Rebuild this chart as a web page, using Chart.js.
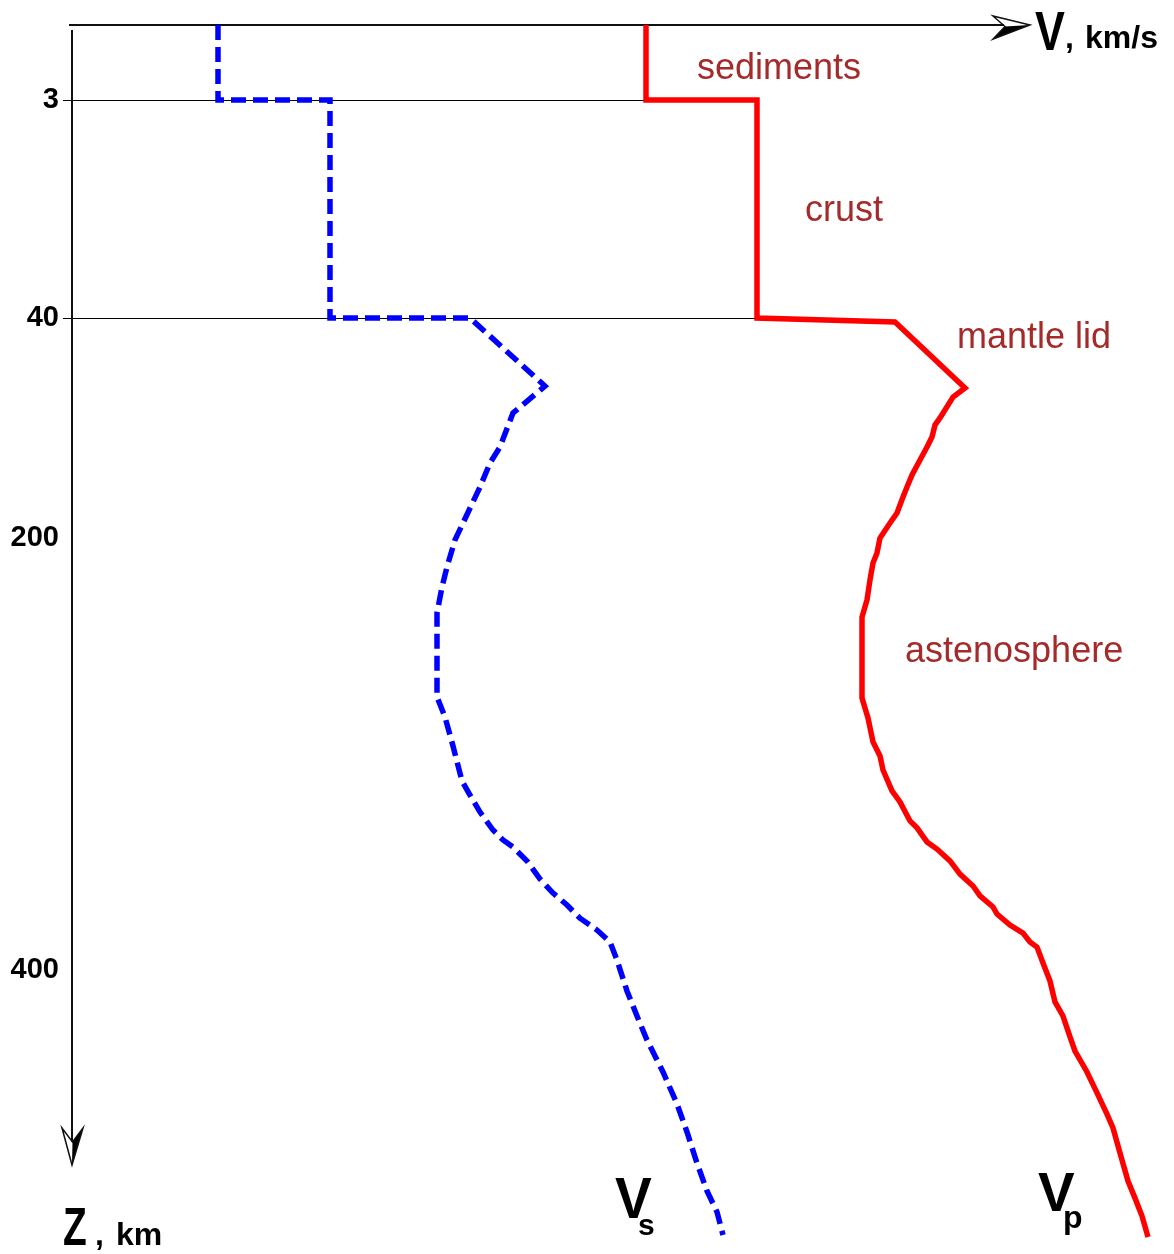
<!DOCTYPE html>
<html>
<head>
<meta charset="utf-8">
<script src="https://cdn.jsdelivr.net/npm/chart.js@4.4.1/dist/chart.umd.min.js"></script>
<style>
html,body{margin:0;padding:0;background:#fff;}
canvas{display:block;}
</style>
</head>
<body>
<canvas id="c" width="1174" height="1254"></canvas>
<script>
// ---- data ----
const DEPTH_TICKS = [3, 40, 200, 400];
const LAYER_BOUNDARIES = [3, 40];
const LAYER_NAMES = ['sediments', 'crust', 'mantle lid', 'astenosphere'];

const VS_VEL = [1.47,1.47,2.59,2.59,3.99,4.74,4.42,4.29,4.19,4.09,3.92,3.84,3.76,3.71,3.66,3.66,3.74,3.82,3.91,3.99,4.09,4.22,4.32,4.42,4.56,4.69,4.82,4.96,5.09,5.26,5.39,5.46,5.56,5.66,5.76,5.92,6.06,6.16,6.26,6.36,6.46,6.52];
const VS_DEPTH = [0,3,3,40,40,89.5,109.1,133.8,145.5,162.9,189.1,200.9,213.4,222.7,234.7,273.6,282.9,296.3,312.5,319.0,326.9,335.2,339.8,343.1,349.5,357.9,364.4,369.9,376.0,381.5,387.0,395.4,409.7,421.3,432.4,447.2,462.0,475.0,489.4,502.3,512.0,522.7];

const VP_VEL = [5.75,5.75,6.86,6.86,8.24,8.94,8.82,8.69,8.64,8.61,8.56,8.49,8.41,8.36,8.32,8.26,8.19,8.09,8.06,8.02,7.99,7.96,7.91,7.91,7.97,8.02,8.09,8.12,8.21,8.29,8.39,8.46,8.56,8.66,8.79,8.89,9.02,9.09,9.22,9.26,9.39,9.52,9.59,9.66,9.72,9.79,9.84,9.92,9.99,10.04,10.16,10.26,10.36,10.42,10.49,10.57,10.64,10.71,10.77];
const VP_DEPTH = [0,3,3,40,42.9,90.9,97.5,112.7,117.8,126.5,133.8,143.3,154.2,162.9,170.2,181.8,189.1,200,206.9,211.6,219.4,228.7,236.6,274.1,283.3,294.4,300.9,307.4,317.1,322.2,331.0,334.2,340.7,344.0,349.5,355.6,361.1,365.7,370.8,374.1,379.2,382.9,387.0,389.4,396.8,405.1,414.8,421.3,431.0,437.5,447.2,456.9,466.7,473.1,484.7,497.7,505.6,513.9,523.6];

// ---- schematic (piecewise) depth axis definition ----
const DEPTH_AXIS = {
  depths: [0, 3, 40, 200, 400, 525],
  fracs:  [0, 0.06173, 0.24115, 0.42222, 0.77778, 1.0]
};
function depthToFrac(v) {
  const d = DEPTH_AXIS.depths, f = DEPTH_AXIS.fracs;
  let i = 0;
  while (i < d.length - 2 && v > d[i + 1]) i++;
  return f[i] + (v - d[i]) * (f[i + 1] - f[i]) / (d[i + 1] - d[i]);
}
function fracToDepth(q) {
  const d = DEPTH_AXIS.depths, f = DEPTH_AXIS.fracs;
  let i = 0;
  while (i < f.length - 2 && q > f[i + 1]) i++;
  return d[i] + (q - f[i]) * (d[i + 1] - d[i]) / (f[i + 1] - f[i]);
}
class DepthScale extends Chart.LinearScale {
  getPixelForValue(value) {
    return this.top + depthToFrac(value) * (this.bottom - this.top);
  }
  getValueForPixel(pixel) {
    return fracToDepth((pixel - this.top) / (this.bottom - this.top));
  }
}
DepthScale.id = 'depthPiecewise';
DepthScale.defaults = { ticks: { callback: v => String(v) } };
Chart.register(DepthScale);

const FONT = '"Liberation Sans", Arial, Helvetica, sans-serif';
const LABEL_COLOR = '#a52a2a';

function drawText(ctx, s, x, y, size, bold, color, sx) {
  ctx.save();
  ctx.translate(x, y);
  ctx.scale(sx || 1, 1);
  ctx.font = (bold ? 'bold ' : '') + size + 'px ' + FONT;
  ctx.fillStyle = color;
  ctx.textAlign = 'left';
  ctx.textBaseline = 'alphabetic';
  ctx.fillText(s, 0, 0);
  ctx.restore();
}

const decor = {
  id: 'decor',
  beforeDatasetsDraw(chart, args, opts) {
    const { ctx, chartArea } = chart;
    const xs = chart.scales.x, ys = chart.scales.y;
    ctx.save();
    // layer boundary lines
    ctx.strokeStyle = '#000';
    ctx.lineWidth = 1;
    LAYER_BOUNDARIES.forEach((d, i) => {
      const py = Math.round(ys.getPixelForValue(d)) + 0.5;
      ctx.beginPath();
      ctx.moveTo(chartArea.left - 8, py);
      ctx.lineTo(xs.getPixelForValue(opts.boundaryEnds[i]), py);
      ctx.stroke();
    });
    // axes
    ctx.strokeStyle = '#111';
    ctx.lineWidth = 2;
    const top = chartArea.top, ax = chartArea.left + 1;
    ctx.beginPath();
    ctx.moveTo(chartArea.left - 2, top);
    ctx.lineTo(1004, top);
    ctx.stroke();
    ctx.beginPath();
    ctx.moveTo(ax, top + 5);
    ctx.lineTo(ax, 1142);
    ctx.stroke();
    // x arrow
    ctx.lineWidth = 1.5;
    ctx.lineJoin = 'miter';
    ctx.fillStyle = '#000';
    ctx.beginPath();
    ctx.moveTo(1030, top); ctx.lineTo(1005, top + 1.5); ctx.lineTo(993, top + 14); ctx.closePath();
    ctx.fill();
    ctx.beginPath();
    ctx.moveTo(1030, top); ctx.lineTo(993, top - 9); ctx.lineTo(1005, top + 1.5); ctx.lineTo(993, top + 14); ctx.closePath();
    ctx.stroke();
    // y arrow
    ctx.beginPath();
    ctx.moveTo(ax, 1165); ctx.lineTo(ax + 0.5, 1142); ctx.lineTo(ax + 11, 1128); ctx.closePath();
    ctx.fill();
    ctx.beginPath();
    ctx.moveTo(ax, 1165); ctx.lineTo(ax - 10, 1128); ctx.lineTo(ax + 0.5, 1142); ctx.lineTo(ax + 11, 1128); ctx.closePath();
    ctx.stroke();
    ctx.restore();
  },
  afterDraw(chart, args, opts) {
    const { ctx } = chart;
    // axis titles
    drawText(ctx, 'V', 1035, 50, 56, true, '#000', 0.8);
    drawText(ctx, ',', 1065, 48, 32, true, '#000');
    drawText(ctx, 'km/s', 1085, 48, 32, true, '#000');
    drawText(ctx, 'Z', 63, 1245, 54, true, '#000', 0.72);
    drawText(ctx, ',', 95, 1245, 32, true, '#000');
    drawText(ctx, 'km', 116, 1245, 32, true, '#000');
    // series names
    drawText(ctx, 'V', 615, 1218, 58, true, '#000', 0.95);
    drawText(ctx, 's', 638, 1235, 30, true, '#000');
    drawText(ctx, 'V', 1038, 1211, 56, true, '#000', 0.98);
    drawText(ctx, 'p', 1063, 1228, 32, true, '#000');
    // layer names
    LAYER_NAMES.forEach((n, i) => {
      const p = opts.layerPos[i];
      drawText(ctx, n, p[0], p[1], 36, false, LABEL_COLOR);
    });
  }
};

const toPts = (vel, dep) => vel.map((v, i) => ({ x: v, y: dep[i] }));

new Chart(document.getElementById('c'), {
  type: 'scatter',
  data: {
    datasets: [
      {
        label: 'Vs',
        data: toPts(VS_VEL, VS_DEPTH),
        showLine: true,
        borderColor: '#0000ff',
        backgroundColor: '#0000ff',
        borderWidth: 5.5,
        borderDash: [15, 7],
        borderCapStyle: 'butt',
        borderJoinStyle: 'miter',
        pointRadius: 0,
        tension: 0,
        clip: false
      },
      {
        label: 'Vp',
        data: toPts(VP_VEL, VP_DEPTH),
        showLine: true,
        borderColor: '#ff0000',
        backgroundColor: '#ff0000',
        borderWidth: 5.5,
        borderCapStyle: 'butt',
        borderJoinStyle: 'miter',
        pointRadius: 0,
        tension: 0,
        clip: false
      }
    ]
  },
  options: {
    responsive: false,
    devicePixelRatio: 1,
    animation: false,
    layout: { padding: { top: 25, right: 3, bottom: 14, left: 0 } },
    scales: {
      x: {
        type: 'linear',
        position: 'top',
        min: 0,
        max: 11,
        display: false
      },
      y: {
        type: 'depthPiecewise',
        position: 'left',
        min: 0,
        max: 525,
        afterBuildTicks: s => { s.ticks = DEPTH_TICKS.map(v => ({ value: v })); },
        afterFit: s => { s.width = 71; s.paddingTop = 0; s.paddingBottom = 0; },
        grid: { display: false, drawTicks: false },
        border: { display: false },
        ticks: {
          autoSkip: false,
          padding: 12,
          color: '#000',
          font: { family: FONT, size: 29, weight: 'bold' },
          callback: v => String(v)
        }
      }
    },
    plugins: {
      legend: { display: false },
      tooltip: { enabled: false },
      decor: {
        boundaryEnds: [5.82, 7.16],
        layerPos: [[697, 79], [805, 221], [957, 348], [905, 662]]
      }
    }
  },
  plugins: [decor]
});
</script>
</body>
</html>
